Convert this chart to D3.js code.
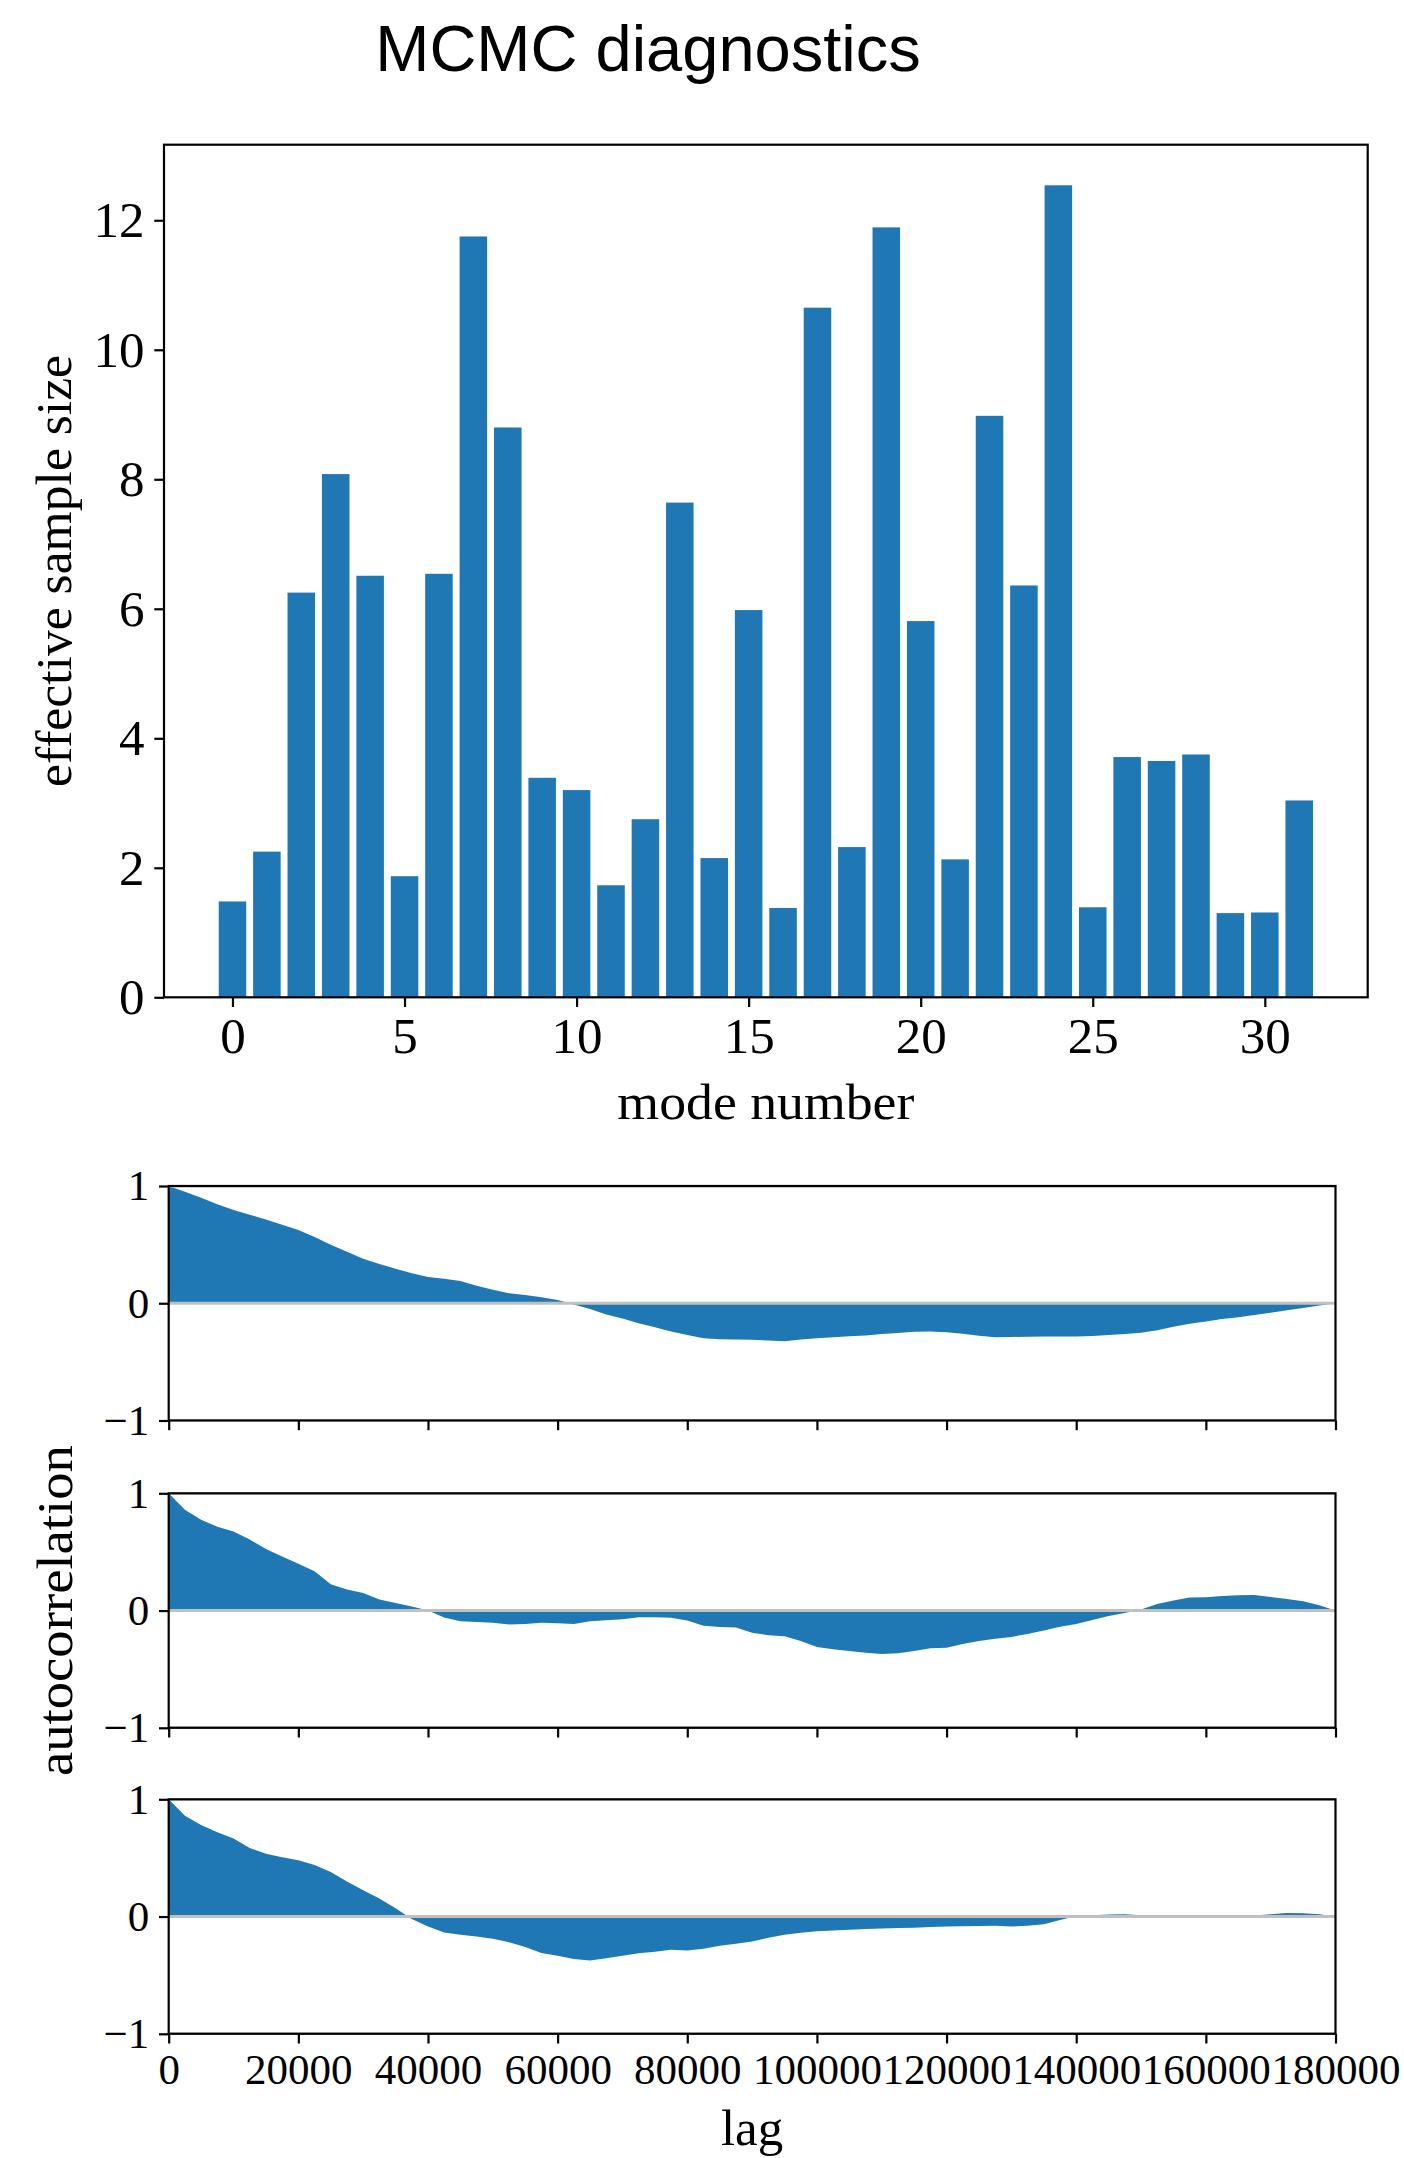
<!DOCTYPE html>
<html>
<head>
<meta charset="utf-8">
<script src="https://cdn.jsdelivr.net/npm/d3@7"></script>
<style>
  html, body { margin: 0; padding: 0; background: #fff; }
  .axis text { font-family: "Liberation Serif", "Times New Roman", serif; fill: #000; }
  .axis line { stroke: #000; stroke-width: 2.2; }
</style>
</head>
<body>
<div id="chart"></div>
<script>
// effective sample size per mode
var modes = d3.range(32);
var ess = [1.48, 2.25, 6.25, 8.08, 6.51, 1.87, 6.54, 11.75, 8.80, 3.39, 3.20, 1.73,
  2.75, 7.64, 2.15, 5.98, 1.38, 10.65, 2.32, 11.89, 5.81, 2.13, 8.98, 6.36,
  12.54, 1.39, 3.71, 3.65, 3.75, 1.30, 1.31, 3.04];
var essTicks = [0, 2, 4, 6, 8, 10, 12];
var modeTicks = [0, 5, 10, 15, 20, 25, 30];

// autocorrelation, lag step 2500
var lags = [0, 2500, 5000, 7500, 10000, 12500, 15000, 17500, 20000, 22500, 25000, 27500,
  30000, 32500, 35000, 37500, 40000, 42500, 45000, 47500, 50000, 52500, 55000, 57500,
  60000, 62500, 65000, 67500, 70000, 72500, 75000, 77500, 80000, 82500, 85000, 87500,
  90000, 92500, 95000, 97500, 100000, 102500, 105000, 107500, 110000, 112500, 115000, 117500,
  120000, 122500, 125000, 127500, 130000, 132500, 135000, 137500, 140000, 142500, 145000, 147500,
  150000, 152500, 155000, 157500, 160000, 162500, 165000, 167500, 170000, 172500, 175000, 177500,
  180000];
var acf1 = [1.00, 0.95, 0.90, 0.845, 0.795, 0.755, 0.715, 0.67, 0.625, 0.565, 0.50, 0.44,
  0.38, 0.335, 0.295, 0.256, 0.224, 0.208, 0.19, 0.15, 0.115, 0.085, 0.071, 0.052,
  0.028, -0.01, -0.05, -0.095, -0.13, -0.17, -0.205, -0.24, -0.27, -0.298, -0.308, -0.31,
  -0.312, -0.318, -0.325, -0.31, -0.298, -0.29, -0.282, -0.276, -0.262, -0.254, -0.243, -0.24,
  -0.247, -0.26, -0.278, -0.29, -0.288, -0.285, -0.284, -0.284, -0.284, -0.28, -0.27, -0.262,
  -0.252, -0.23, -0.20, -0.175, -0.156, -0.135, -0.12, -0.10, -0.08, -0.06, -0.04, -0.02,
  0.0];
var acf2 = [1.00, 0.86, 0.775, 0.715, 0.675, 0.605, 0.525, 0.46, 0.40, 0.335, 0.225, 0.18,
  0.15, 0.095, 0.065, 0.035, 0.0, -0.06, -0.092, -0.098, -0.105, -0.118, -0.115, -0.105,
  -0.108, -0.115, -0.092, -0.082, -0.075, -0.057, -0.057, -0.062, -0.085, -0.13, -0.14, -0.145,
  -0.19, -0.21, -0.22, -0.26, -0.31, -0.33, -0.345, -0.36, -0.37, -0.365, -0.345, -0.322,
  -0.318, -0.285, -0.26, -0.24, -0.225, -0.20, -0.17, -0.138, -0.114, -0.08, -0.046, -0.02,
  0.01, 0.055, 0.085, 0.112, 0.114, 0.125, 0.13, 0.132, 0.115, 0.098, 0.08, 0.045,
  0.0];
var acf3 = [1.00, 0.86, 0.78, 0.72, 0.665, 0.585, 0.535, 0.505, 0.48, 0.44, 0.38, 0.30,
  0.225, 0.155, 0.07, -0.02, -0.085, -0.135, -0.155, -0.17, -0.19, -0.22, -0.26, -0.31,
  -0.335, -0.362, -0.375, -0.355, -0.335, -0.312, -0.30, -0.284, -0.29, -0.275, -0.25, -0.232,
  -0.213, -0.18, -0.155, -0.138, -0.125, -0.12, -0.112, -0.106, -0.102, -0.098, -0.095, -0.09,
  -0.085, -0.082, -0.08, -0.078, -0.085, -0.078, -0.065, -0.03, 0.005, 0.012, 0.018, 0.02,
  0.012, 0.005, 0.0, -0.01, -0.01, -0.01, -0.008, 0.01, 0.02, 0.03, 0.028, 0.02,
  0.0];
var lagTicks = [0, 20000, 40000, 60000, 80000, 100000, 120000, 140000, 160000, 180000];
var acfTicks = [-1, 0, 1];

(function () {
  var W = 1404, H = 2158;
  var blue = '#1f77b4';
  var tick = 9.7;

  var svg = d3.select('#chart').append('svg')
    .attr('width', W)
    .attr('height', H);

  svg.append('text')
    .attr('x', 648)
    .attr('y', 71)
    .attr('text-anchor', 'middle')
    .style('font-family', '"Liberation Sans", Arimo, Arial, sans-serif')
    .style('font-size', '65px')
    .text('MCMC diagnostics');

  // ---- bar chart ----
  var box = { left: 164, right: 1367.7, top: 144.7, bottom: 997.3 };
  var span = 31.8;
  var x = d3.scaleLinear()
    .domain([-0.4 - 0.05 * span, 31.4 + 0.05 * span])
    .range([box.left, box.right]);
  var y = d3.scaleLinear()
    .domain([0, d3.max(ess) * 1.05])
    .range([box.bottom, box.top]);

  svg.append('g')
    .selectAll('rect')
    .data(modes)
    .enter().append('rect')
    .attr('x', d => x(d - 0.4))
    .attr('width', d => x(d + 0.4) - x(d - 0.4))
    .attr('y', d => y(ess[d]))
    .attr('height', d => y(0) - y(ess[d]))
    .attr('fill', blue);

  var gx = svg.append('g')
    .attr('class', 'axis')
    .attr('transform', 'translate(0,' + box.bottom + ')')
    .call(d3.axisBottom(x).tickValues(modeTicks).tickFormat(d3.format('d'))
      .tickSize(tick).tickPadding(tick).tickSizeOuter(0));
  var gy = svg.append('g')
    .attr('class', 'axis')
    .attr('transform', 'translate(' + box.left + ',0)')
    .call(d3.axisLeft(y).tickValues(essTicks).tickFormat(d3.format('d'))
      .tickSize(tick).tickPadding(tick).tickSizeOuter(0));
  [gx, gy].forEach(g => {
    g.select('.domain').remove();
    g.selectAll('text').style('font-size', '51px');
  });

  svg.append('rect')
    .attr('x', box.left).attr('y', box.top)
    .attr('width', box.right - box.left).attr('height', box.bottom - box.top)
    .attr('fill', 'none').attr('stroke', '#000').attr('stroke-width', 2.2);

  svg.append('text')
    .attr('x', (box.left + box.right) / 2)
    .attr('y', 1119)
    .attr('text-anchor', 'middle')
    .attr('textLength', 297)
    .attr('lengthAdjust', 'spacingAndGlyphs')
    .style('font-family', '"Liberation Serif", serif')
    .style('font-size', '51px')
    .text('mode number');

  svg.append('text')
    .attr('transform', 'translate(71,' + (box.top + box.bottom) / 2 + ') rotate(-90)')
    .attr('text-anchor', 'middle')
    .attr('textLength', 432)
    .attr('lengthAdjust', 'spacingAndGlyphs')
    .style('font-family', '"Liberation Serif", serif')
    .style('font-size', '51px')
    .text('effective sample size');

  // ---- autocorrelation panels ----
  var pLeft = 168.7, pRight = 1335.5, pH = 234.5;
  var panelTops = [1186, 1493.3, 1799.3];
  var series = [acf1, acf2, acf3];

  var lx = d3.scaleLinear().domain([0, 180000]).range([pLeft, pRight]);

  series.forEach((vals, k) => {
    var t0 = panelTops[k];
    var ly = d3.scaleLinear().domain([-1, 1]).range([t0 + pH, t0]);
    var g = svg.append('g');

    var clipId = 'clip' + k;
    g.append('clipPath').attr('id', clipId)
      .append('rect')
      .attr('x', pLeft).attr('y', t0)
      .attr('width', pRight - pLeft).attr('height', pH);

    var area = d3.area()
      .x((d, i) => lx(lags[i]))
      .y0(ly(0))
      .y1(d => ly(d));
    g.append('path')
      .datum(vals)
      .attr('d', area)
      .attr('fill', blue);

    g.append('g')
      .attr('clip-path', 'url(#' + clipId + ')')
      .selectAll('line')
      .data(acfTicks)
      .enter().append('line')
      .attr('x1', pLeft).attr('x2', pRight)
      .attr('y1', d => ly(d)).attr('y2', d => ly(d))
      .attr('stroke', '#c0c0c0')
      .attr('stroke-width', 3);

    var ax = g.append('g')
      .attr('class', 'axis')
      .attr('transform', 'translate(0,' + (t0 + pH) + ')')
      .call(d3.axisBottom(lx).tickValues(lagTicks)
        .tickFormat(k === 2 ? d3.format('d') : () => '')
        .tickSize(tick).tickPadding(tick).tickSizeOuter(0));
    var ay = g.append('g')
      .attr('class', 'axis')
      .attr('transform', 'translate(' + pLeft + ',0)')
      .call(d3.axisLeft(ly).tickValues(acfTicks).tickFormat(d3.format('d'))
        .tickSize(tick).tickPadding(tick).tickSizeOuter(0));
    [ax, ay].forEach(a => {
      a.select('.domain').remove();
      a.selectAll('text').style('font-size', '43px');
    });

    g.append('rect')
      .attr('x', pLeft).attr('y', t0)
      .attr('width', pRight - pLeft).attr('height', pH)
      .attr('fill', 'none').attr('stroke', '#000').attr('stroke-width', 2.2);
  });

  svg.append('text')
    .attr('transform', 'translate(72,' + (panelTops[1] + pH / 2) + ') rotate(-90)')
    .attr('text-anchor', 'middle')
    .attr('textLength', 331)
    .attr('lengthAdjust', 'spacingAndGlyphs')
    .style('font-family', '"Liberation Serif", serif')
    .style('font-size', '51px')
    .text('autocorrelation');

  svg.append('text')
    .attr('x', (pLeft + pRight) / 2)
    .attr('y', 2145)
    .attr('text-anchor', 'middle')
    .style('font-family', '"Liberation Serif", serif')
    .style('font-size', '51px')
    .text('lag');
})();
</script>
</body>
</html>
